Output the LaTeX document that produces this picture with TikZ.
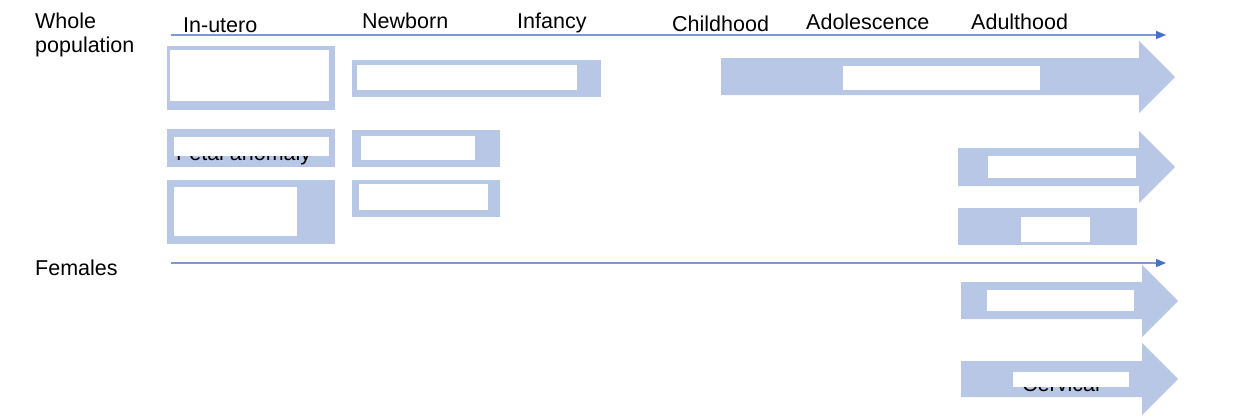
\documentclass[tikz,border=0pt]{standalone}
\usepackage{fontspec}
\setmainfont{Liberation Sans}
\usetikzlibrary{arrows.meta}
\definecolor{barblue}{HTML}{B9C7E6}
\definecolor{lineblue}{HTML}{7E98D2}
\definecolor{headblue}{HTML}{4472C4}
\tikzset{
  lbl/.style={anchor=base west, inner sep=0pt, font=\fontsize{21.5}{25}\selectfont},
  bar/.style={fill=barblue, draw=none, inner sep=0pt, anchor=north west},
  mask/.style={fill=white, draw=none, inner sep=0pt, anchor=north west},
  tl/.style={draw=lineblue, line width=1.2pt, -{Triangle[length=10pt,width=8pt,color=headblue]}},
  arr/.style={fill=barblue, draw=none},
}
\begin{document}
\begin{tikzpicture}[x=1pt,y=-1pt]
\useasboundingbox (0,0) rectangle (1244,416);

% labels
\node[lbl] (whole) at (35,28) {Whole};
\node[lbl] (pop) at (35,52) {population};
\node[lbl] (inutero) at (183,32) {In-utero};
\node[lbl] (newborn) at (362,28) {Newborn};
\node[lbl] (infancy) at (517,28) {Infancy};
\node[lbl] (child) at (672,31) {Childhood};
\node[lbl] (adol) at (806,29) {Adolescence};
\node[lbl] (adult) at (971,29) {Adulthood};
\node[lbl] (fem) at (35,275) {Females};

% timelines
\coordinate (t1s) at (171,35);
\coordinate (t1e) at (1166,35);
\coordinate (t2s) at (171,263);
\coordinate (t2e) at (1166,263);
\draw[tl] (t1s) -- (t1e);
\draw[tl] (t2s) -- (t2e);

% blue boxes
\node[bar, minimum width=168pt, minimum height=64pt] (boxA) at (167,46) {};
\node[bar, minimum width=249pt, minimum height=37pt] (boxB) at (352,60) {};
\node[bar, minimum width=168pt, minimum height=38pt] (boxC) at (167,129) {};
\node[bar, minimum width=148pt, minimum height=37pt] (boxD) at (352,130) {};
\node[bar, minimum width=168pt, minimum height=64pt] (boxE) at (167,180) {};
\node[bar, minimum width=148pt, minimum height=37pt] (boxF) at (352,180) {};
\node[bar, minimum width=179pt, minimum height=37pt] (boxG) at (958,208) {};

% big arrows
\fill[arr] (721,58) -- (1139,58) -- (1139,41) -- (1175,77) -- (1139,113) -- (1139,95) -- (721,95) -- cycle;
\fill[arr] (958,148) -- (1139,148) -- (1139,131) -- (1175,167) -- (1139,203) -- (1139,186) -- (958,186) -- cycle;
\fill[arr] (961,282) -- (1142,282) -- (1142,265) -- (1178,301) -- (1142,337) -- (1142,319) -- (961,319) -- cycle;
\fill[arr] (961,361) -- (1142,361) -- (1142,343) -- (1178,379) -- (1142,415) -- (1142,397) -- (961,397) -- cycle;

% partly hidden texts
\node[lbl] (fetal) at (176,160.5) {Fetal anomaly};
\node[lbl] (cerv) at (1022,391) {Cervical};

% white masks
\node[mask, minimum width=159pt, minimum height=51pt] (mA) at (170,50) {};
\node[mask, minimum width=220pt, minimum height=25pt] (mB) at (357,65) {};
\node[mask, minimum width=155pt, minimum height=19pt] (mC) at (174,137) {};
\node[mask, minimum width=114pt, minimum height=24pt] (mD) at (361,136) {};
\node[mask, minimum width=123pt, minimum height=49pt] (mE) at (174,187) {};
\node[mask, minimum width=129pt, minimum height=26pt] (mF) at (359,184) {};
\node[mask, minimum width=69pt, minimum height=25pt] (mG) at (1021,217) {};
\node[mask, minimum width=197pt, minimum height=24pt] (m1) at (843,66) {};
\node[mask, minimum width=148pt, minimum height=22pt] (m2) at (988,156) {};
\node[mask, minimum width=147pt, minimum height=21pt] (m3) at (987,290) {};
\node[mask, minimum width=116pt, minimum height=15pt] (m4) at (1013,372) {};
\end{tikzpicture}
\end{document}
